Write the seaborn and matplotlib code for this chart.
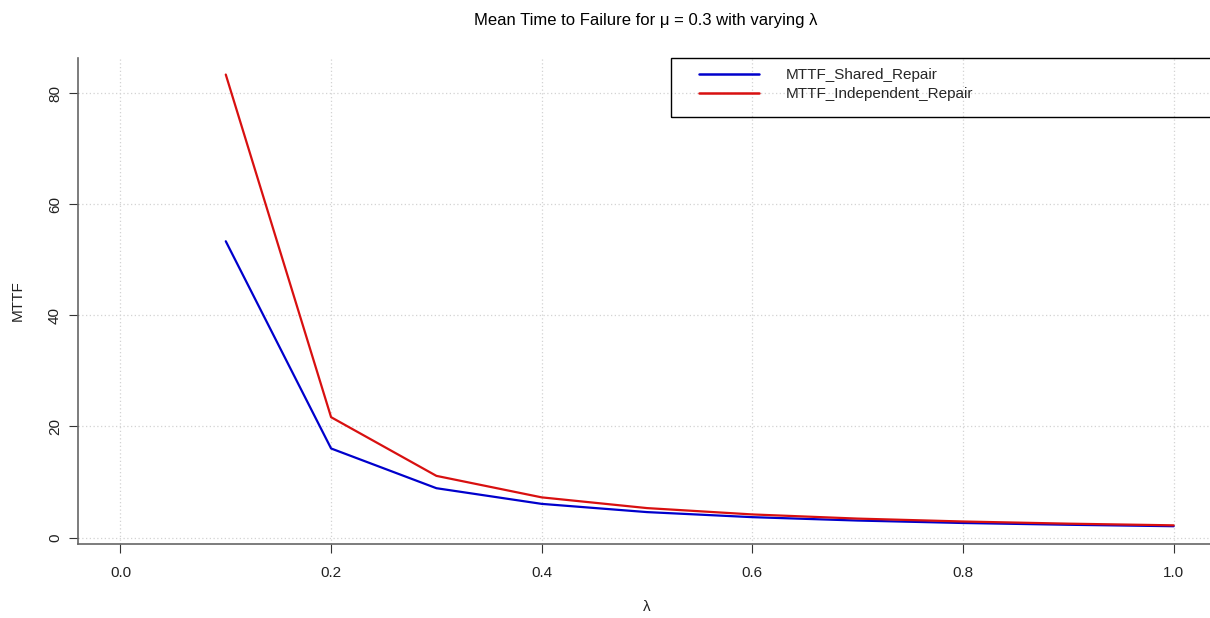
import pandas as pd
import matplotlib
matplotlib.use("Agg")
import matplotlib.pyplot as plt
from matplotlib.patches import Rectangle
import seaborn as sns

# --- DATA ---
LAMBDA = [0.1, 0.2, 0.3, 0.4, 0.5, 0.6, 0.7, 0.8, 0.9, 1.0]
MTTF_SHARED = [53.33, 16.04, 8.89, 6.07, 4.59, 3.68, 3.07, 2.63, 2.31, 2.05]
MTTF_INDEP = [83.33, 21.67, 11.11, 7.24, 5.31, 4.17, 3.42, 2.90, 2.51, 2.21]
SERIES = ["MTTF_Shared_Repair", "MTTF_Independent_Repair"]
X_TICKS = [0.0, 0.2, 0.4, 0.6, 0.8, 1.0]
Y_TICKS = [0, 20, 40, 60, 80]

COLORS = {"MTTF_Shared_Repair": "#0000CC", "MTTF_Independent_Repair": "#D81010"}

df = pd.concat([
    pd.DataFrame({"lam": LAMBDA, "mttf": MTTF_SHARED, "series": SERIES[0]}),
    pd.DataFrame({"lam": LAMBDA, "mttf": MTTF_INDEP, "series": SERIES[1]}),
])

sns.set_style("white")
plt.rcParams["font.family"] = ["Liberation Sans", "DejaVu Sans"]
FS = 11

W, H = 1210, 618
fig = plt.figure(figsize=(W / 100, H / 100), dpi=100)
# plot region in pixels: left 78, right 1210, top 57.7, bottom 544
ax = fig.add_axes([78 / W, (H - 544) / H, (W - 78) / W, (544 - 57.7) / H])

sns.lineplot(data=df, x="lam", y="mttf", hue="series", hue_order=SERIES,
             palette=COLORS, linewidth=1.6, ax=ax, legend=False, zorder=3)

ax.set_xlim(-0.0403, 1.0345)
ax.set_ylim(-1.15, 86.36)
ax.set_xticks(X_TICKS)
ax.set_xticklabels([f"{t:.1f}" for t in X_TICKS])
ax.set_yticks(Y_TICKS)
ax.set_yticklabels([str(t) for t in Y_TICKS], rotation=90, va="center")

# R-style dotted grid
ax.grid(True, color="#d3d3d3", linestyle=(0, (1, 2)), linewidth=0.9)
ax.set_axisbelow(True)

for s in ["top", "right"]:
    ax.spines[s].set_visible(False)
for s in ["left", "bottom"]:
    ax.spines[s].set_color("#666666")
    ax.spines[s].set_linewidth(1.2)

ax.tick_params(axis="both", direction="out", length=6.5, width=0.8,
               bottom=True, left=True, color="#333333",
               labelsize=FS, labelcolor="#222222")
ax.tick_params(axis="x", pad=9)
ax.tick_params(axis="y", pad=5)

ax.set_xlabel("")
ax.set_ylabel("")
fig.text(647 / W, 1 - 607 / H, "λ", ha="center", va="center", fontsize=FS, color="#222222")
fig.text(18 / W, 1 - 301 / H, "MTTF", ha="center", va="center", rotation=90,
         fontsize=FS, color="#222222")
fig.text(646 / W, 1 - 20 / H, "Mean Time to Failure for μ = 0.3 with varying λ",
         ha="center", va="center", fontsize=12, color="black")

# legend box (top right, R style)
ax.add_patch(Rectangle((0.524, 0.878), 0.48, 0.122, transform=ax.transAxes,
                       fill=False, edgecolor="black", linewidth=1.0,
                       clip_on=False, zorder=5))
handles = [plt.Line2D([], [], color=COLORS[s], linewidth=1.8) for s in SERIES]
ax.legend(handles, SERIES, loc="upper left", bbox_to_anchor=(0.549, 0.978),
          frameon=False, borderpad=0, borderaxespad=0, handlelength=3.9,
          handletextpad=1.75, labelspacing=0.3, fontsize=FS)

fig.savefig("out.png", dpi=100)
